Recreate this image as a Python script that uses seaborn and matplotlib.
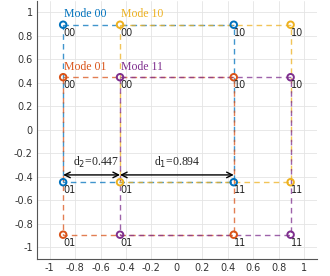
import numpy as np
import pandas as pd
import matplotlib
matplotlib.use("Agg")
import matplotlib.pyplot as plt
import seaborn as sns
from matplotlib.ticker import FuncFormatter

# ============================================================
# Data
# ============================================================

modes = ["Mode 00", "Mode 10", "Mode 01", "Mode 11"]
colors = ["#0072BD", "#EDB120", "#D95319", "#7E2F8E"]
x_left = [-0.894, -0.447, -0.894, -0.447]
x_right = [0.447, 0.894, 0.447, 0.894]
y_top = [0.894, 0.894, 0.447, 0.447]
y_bottom = [-0.447, -0.447, -0.894, -0.894]
bit_labels = ["00", "10", "01", "11"]   # top-left, top-right, bottom-left, bottom-right
d2 = 0.447
d1 = 0.894
ticks = [-1, -0.8, -0.6, -0.4, -0.2, 0, 0.2, 0.4, 0.6, 0.8, 1]

rows = []
for m, xl, xr, yt, yb in zip(modes, x_left, x_right, y_top, y_bottom):
    pts = [(xl, yt), (xr, yt), (xl, yb), (xr, yb)]
    for (px, py), b in zip(pts, bit_labels):
        rows.append({"mode": m, "x": px, "y": py, "bits": b})
df = pd.DataFrame(rows)

# ============================================================
# Plot
# ============================================================

sns.set_style("whitegrid")
plt.rcParams["axes.unicode_minus"] = False
plt.rcParams["font.family"] = ["DejaVu Sans"]

fig = plt.figure(figsize=(3.3, 2.76), dpi=100)
ax = fig.add_axes([0.112, 0.062, 0.848, 0.936])

palette = dict(zip(modes, colors))

# dashed rectangles per mode
for m, xl, xr, yt, yb in zip(modes, x_left, x_right, y_top, y_bottom):
    rect = pd.DataFrame({"x": [xl, xr, xr, xl, xl], "y": [yt, yt, yb, yb, yt]})
    sns.lineplot(data=rect, x="x", y="y", sort=False, estimator=None, ax=ax,
                 color=palette[m], linestyle=(0, (4, 3)), linewidth=1.0, alpha=0.75)

sns.scatterplot(data=df, x="x", y="y", hue="mode", palette=palette, ax=ax,
                marker="o", s=22, facecolors="none", linewidth=1.4, legend=False,
                zorder=5)
for c in ax.collections:
    c.set_facecolor("none")
    c.set_edgecolor([palette[m] for m in df["mode"]])

for _, r in df.iterrows():
    ax.text(r["x"] + 0.005, r["y"] - 0.025, r["bits"], fontsize=7, color="#222222",
            ha="left", va="top", zorder=6)

for m, xl, yt, c in zip(modes, x_left, y_top, colors):
    ax.text(xl + 0.01, yt + 0.04, m, fontsize=8.5, color=c, family="Liberation Serif",
            ha="left", va="bottom")

# distance arrows
arr_y = -0.385
ax.annotate("", xy=(x_left[0], arr_y), xytext=(x_left[1], arr_y),
            arrowprops=dict(arrowstyle="<->", color="black", lw=1.0,
                            shrinkA=0, shrinkB=0))
ax.annotate("", xy=(x_left[1], arr_y), xytext=(x_right[0], arr_y),
            arrowprops=dict(arrowstyle="<->", color="black", lw=1.0,
                            shrinkA=0, shrinkB=0))
ax.text(x_left[0] + 0.08, arr_y + 0.04, "d$_2$=%.3f" % d2, fontsize=8.5,
        family="Liberation Serif", ha="left", va="bottom")
ax.text(x_left[1] + 0.27, arr_y + 0.04, "d$_1$=%.3f" % d1, fontsize=8.5,
        family="Liberation Serif", ha="left", va="bottom")
plt.rcParams["mathtext.fontset"] = "stix"

ax.set_xlim(-1.1, 1.1)
ax.set_ylim(-1.1, 1.1)
ax.set_xticks(ticks)
ax.set_yticks(ticks)
fmt = FuncFormatter(lambda v, p: "%g" % round(v, 2))
ax.xaxis.set_major_formatter(fmt)
ax.yaxis.set_major_formatter(fmt)
ax.set_xlabel("")
ax.set_ylabel("")
ax.tick_params(labelsize=7, colors="#333333", length=2, direction="in", pad=3)
ax.grid(True, color="#e4e4e4", linewidth=0.6)
for s in ["top", "right"]:
    ax.spines[s].set_visible(False)
for s in ["left", "bottom"]:
    ax.spines[s].set_color("#555555")
    ax.spines[s].set_linewidth(0.8)

fig.savefig("out.png", dpi=100)
